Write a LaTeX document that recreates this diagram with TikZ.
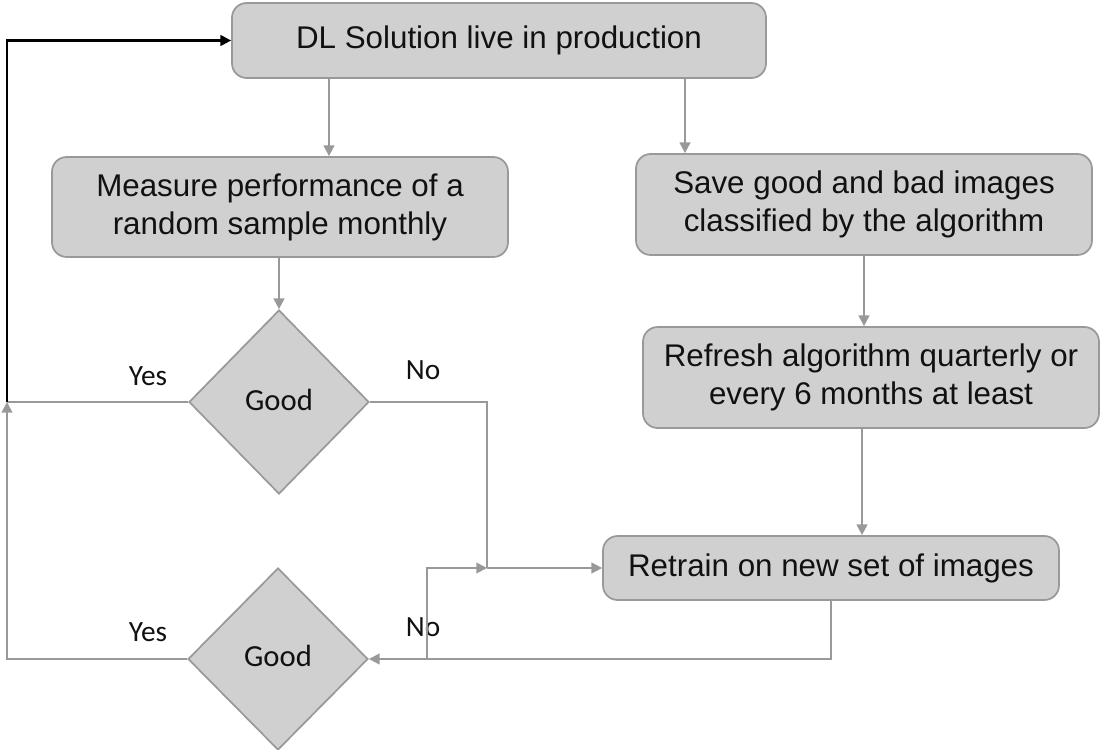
\documentclass[tikz,border=0pt]{standalone}
\usepackage{fontspec}
\setmainfont{Liberation Sans}
\newfontfamily\calfont{Carlito}
\usetikzlibrary{shapes.geometric,arrows.meta}
\definecolor{boxfill}{HTML}{D0D0D0}
\definecolor{edge}{HTML}{999999}
\definecolor{txt}{HTML}{111111}
\tikzset{
  procbox/.style={draw=edge, line width=1.3pt, fill=boxfill, rounded corners=11pt, align=center, text=txt, inner sep=0pt,
    font=\fontsize{23.5pt}{28.5pt}\selectfont},
  decision/.style={diamond, draw=edge, line width=1.3pt, fill=boxfill, inner sep=0pt, text=txt,
    font=\calfont\fontsize{23pt}{27pt}\selectfont},
  gline/.style={draw=edge, line width=1.4pt},
  garrow/.style={gline, -{Triangle[length=8pt,width=8pt]}},
  barrow/.style={draw=black, line width=1.6pt, -{Triangle[length=8pt,width=8pt]}},
  lbl/.style={text=txt, font=\calfont\fontsize{22pt}{26pt}\selectfont, inner sep=0pt}
}
\begin{document}
\begin{tikzpicture}[x=0.75pt,y=-0.75pt]
\useasboundingbox (0,0) rectangle (1104,750);
\node[procbox, minimum width=400.5pt, minimum height=56.25pt] (top) at (499,40.5) {DL Solution live in production};
\node[procbox, minimum width=342pt, minimum height=75pt] (measure) at (280,207) {Measure performance of a\\random sample monthly};
\node[procbox, minimum width=342pt, minimum height=75.75pt] (save) at (864,204.5) {Save good and bad images\\classified by the algorithm};
\node[procbox, minimum width=342pt, minimum height=75.75pt] (refresh) at (871,377.5) {Refresh algorithm quarterly or\\every 6 months at least};
\node[procbox, minimum width=342pt, minimum height=48pt] (retrain) at (831,568) {Retrain on new set of images};
\node[decision, minimum width=135pt, minimum height=138pt] (d1) at (279,402) {\raisebox{3pt}{Good}};
\node[decision, minimum width=135pt, minimum height=136.5pt] (d2) at (278,659) {\raisebox{4pt}{Good}};
\coordinate (j) at (487,568);
\coordinate (k) at (427,659);
\coordinate (l) at (7,402);
\node[lbl] (yes1) at (148,376) {Yes};
\node[lbl] (no1) at (423,370) {No};
\node[lbl] (yes2) at (148,632) {Yes};
\node[lbl] (no2) at (423,627) {No};
% connectors
\draw[garrow] (top.south -| 329,0) -- (measure.north -| 329,0);
\draw[garrow] (top.south -| 685,0) -- (save.north -| 685,0);
\draw[garrow] (measure.south -| d1.north) -- (d1.north);
\draw[garrow] (save.south) -- (refresh.north -| save.south);
\draw[garrow] (refresh.south -| 862,0) -- (retrain.north -| 862,0);
\draw[gline] (d1.east) -| (j);
\draw[garrow] (j) -- (retrain.west);
\draw[garrow] (retrain.south -| 831,0) |- (d2.east);
\draw[garrow] (k) |- (j);
\draw[gline] (d1.west) -- (l);
\draw[garrow] (d2.west) -| (l);
\draw[barrow] (l) |- (top.west);
\end{tikzpicture}
\end{document}
